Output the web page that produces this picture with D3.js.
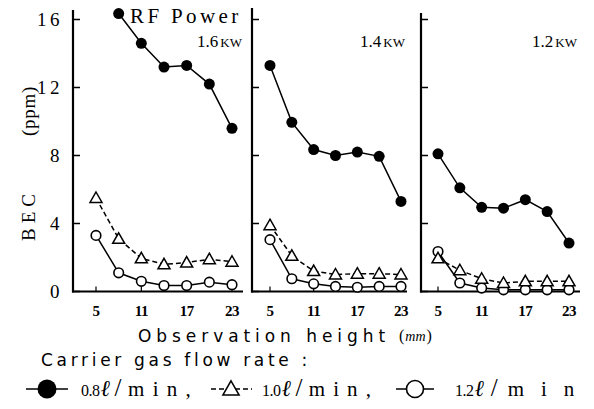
<!DOCTYPE html>
<html><head><meta charset="utf-8">
<script src="https://cdn.jsdelivr.net/npm/d3@7"></script>
<style>body{margin:0;background:#fff}svg{display:block}</style>
</head><body>
<svg id="c" width="594" height="409"></svg>
<script>
const heights = [5, 8, 11, 14, 17, 20, 23];
const xTicks = [5, 11, 17, 23];
const yTicks = [0, 4, 8, 12, 16];
const powers = ["1.6", "1.4", "1.2"];
// BEC (ppm) for carrier gas flow 0.8 / 1.0 / 1.2 l/min
const bec16_08 = [null, 16.35, 14.6, 13.2, 13.3, 12.2, 9.6];
const bec16_10 = [5.5, 3.1, 1.95, 1.6, 1.7, 1.9, 1.75];
const bec16_12 = [3.3, 1.1, 0.6, 0.35, 0.35, 0.55, 0.4];
const bec14_08 = [13.3, 9.95, 8.35, 8.0, 8.2, 7.95, 5.3];
const bec14_10 = [3.9, 2.1, 1.2, 1.0, 1.05, 1.05, 1.0];
const bec14_12 = [3.05, 0.75, 0.45, 0.3, 0.25, 0.3, 0.3];
const bec12_08 = [8.1, 6.1, 4.95, 4.9, 5.4, 4.7, 2.85];
const bec12_10 = [1.95, 1.25, 0.75, 0.5, 0.6, 0.6, 0.6];
const bec12_12 = [2.35, 0.5, 0.2, 0.1, 0.1, 0.1, 0.1];
const legendLabels = ["0.8", "1.0", "1.2"];

const panels = [
  {power: powers[0], series: [bec16_08, bec16_10, bec16_12], ax: 73, end: 243, x0: 96, x1: 232, top: 10},
  {power: powers[1], series: [bec14_08, bec14_10, bec14_12], ax: 252, end: 407, x0: 270, x1: 401, top: 8},
  {power: powers[2], series: [bec12_08, bec12_10, bec12_12], ax: 421, end: 580, x0: 438, x1: 569, top: 13}
];

const svg = d3.select("#c");
const y = d3.scaleLinear().domain([0, 16]).range([291.5, 19.5]);
const serif = "'Liberation Serif', 'DejaVu Serif', serif";
const sans = "'DejaVu Sans', sans-serif";

function fit(sel, width) {
  const node = sel.node();
  const n = node.textContent.length;
  const w = node.getComputedTextLength();
  sel.attr("letter-spacing", (width - w) / n);
  return sel;
}

function drawMarker(g, type, cx, cy, r) {
  if (type === 0) {
    g.append("circle").attr("cx", cx).attr("cy", cy).attr("r", r).attr("fill", "#000");
  } else if (type === 2) {
    g.append("circle").attr("cx", cx).attr("cy", cy).attr("r", r).attr("fill", "#fff")
      .attr("stroke", "#000").attr("stroke-width", 1.6);
  } else {
    const s = r * 1.25;
    g.append("path").attr("d", `M${cx},${cy - s}L${cx + s},${cy + s * 0.75}L${cx - s},${cy + s * 0.75}Z`)
      .attr("fill", "#fff").attr("stroke", "#000").attr("stroke-width", 1.5);
  }
}

panels.forEach((p, pi) => {
  const x = d3.scaleLinear().domain([5, 23]).range([p.x0, p.x1]);
  const g = svg.append("g");
  g.append("line").attr("x1", p.ax).attr("x2", p.ax).attr("y1", p.top).attr("y2", y(0) + 1)
    .attr("stroke", "#000").attr("stroke-width", 2.2);
  g.append("line").attr("x1", p.ax - 1).attr("x2", p.end).attr("y1", y(0)).attr("y2", y(0))
    .attr("stroke", "#000").attr("stroke-width", 2.2);
  yTicks.forEach(t => {
    g.append("line").attr("x1", p.ax).attr("x2", p.ax + 7).attr("y1", y(t)).attr("y2", y(t))
      .attr("stroke", "#000").attr("stroke-width", 1.5);
  });
  xTicks.forEach(t => {
    g.append("line").attr("x1", x(t)).attr("x2", x(t)).attr("y1", y(0)).attr("y2", y(0) - 5)
      .attr("stroke", "#000").attr("stroke-width", 1.2);
    g.append("text").attr("x", x(t)).attr("y", 316).attr("text-anchor", "middle")
      .attr("font-family", serif).attr("font-size", 15).attr("font-weight", "bold")
      .attr("letter-spacing", -0.5).text(t);
  });
  if (pi === 0) {
    yTicks.forEach(t => {
      g.append("text").attr("x", 63).attr("y", y(t) + 6.5).attr("text-anchor", "end")
        .attr("font-family", serif).attr("font-size", 19).attr("letter-spacing", 3.5).text(t);
    });
  }
  p.series.forEach((vals, si) => {
    const pts = heights.map((h, i) => [h, vals[i]]).filter(d => d[1] !== null);
    const line = d3.line().x(d => x(d[0])).y(d => y(d[1]));
    g.append("path").attr("d", line(pts)).attr("fill", "none").attr("stroke", "#000")
      .attr("stroke-width", 1.5).attr("stroke-dasharray", si === 1 ? "5,3" : null);
  });
  [2, 1, 0].forEach(si => {
    const vals = p.series[si];
    heights.forEach((h, i) => {
      if (vals[i] !== null) drawMarker(g, si, x(h), y(vals[i]), si === 0 ? 5.5 : 4.8);
    });
  });
  const lx = pi === 0 ? 242 : (pi === 1 ? 405 : 577);
  const t = g.append("text").attr("x", lx).attr("y", 47).attr("text-anchor", "end")
    .attr("font-family", serif).attr("font-size", 17);
  t.append("tspan").text(p.power);
  t.append("tspan").attr("font-size", 13).attr("dx", 2).text("KW");
});

// RF Power
fit(svg.append("text").attr("x", 130).attr("y", 23).attr("font-family", serif).attr("font-size", 21)
  .text("RF  Power"), 115);

// y label (rotated)
fit(svg.append("text").attr("transform", "translate(35,241) rotate(-90)")
  .attr("font-family", serif).attr("font-size", 19).text("BEC"), 52);
fit(svg.append("text").attr("transform", "translate(35,136) rotate(-90)")
  .attr("font-family", serif).attr("font-size", 19).text("(ppm)"), 50);

// x label
fit(svg.append("text").attr("x", 138).attr("y", 342).attr("font-family", sans).attr("font-size", 17)
  .text("Observation height"), 252);
const mm = svg.append("text").attr("x", 399).attr("y", 341).attr("font-family", serif).attr("font-size", 16);
mm.append("tspan").text("(");
mm.append("tspan").attr("font-style", "italic").attr("font-size", 14).attr("dx", 1).text("mm");
mm.append("tspan").attr("dx", 1).text(")");

fit(svg.append("text").attr("x", 41).attr("y", 366).attr("font-family", sans).attr("font-size", 17)
  .text("Carrier gas flow rate :"), 270);

// legend
const leg = svg.append("g");
const ly = 389;
const legItems = [
  {type: 0, lx1: 26, lx2: 68, cx: 47, tx: 81, w: 117, txt: legendLabels[0], comma: ","},
  {type: 1, lx1: 211, lx2: 252, cx: 231, tx: 262, w: 116, txt: legendLabels[1], comma: ","},
  {type: 2, lx1: 396, lx2: 434, cx: 415, tx: 455, w: 135, txt: legendLabels[2], comma: ""}
];
legItems.forEach(it => {
  leg.append("line").attr("x1", it.lx1).attr("x2", it.lx2).attr("y1", ly).attr("y2", ly)
    .attr("stroke", "#000").attr("stroke-width", 1.6).attr("stroke-dasharray", it.type === 1 ? "5,3" : null);
  drawMarker(leg, it.type, it.cx, ly, it.type === 0 ? 9.5 : (it.type === 2 ? 8.5 : 6.5));
  const tt = leg.append("text").attr("x", it.tx).attr("y", ly + 7).attr("font-family", serif).attr("font-size", 20);
  tt.append("tspan").attr("font-size", 16).attr("letter-spacing", -0.5).text(it.txt);
  tt.append("tspan").attr("font-style", "italic").attr("font-size", 23).attr("dx", 1).text("ℓ");
  const sl = tt.append("tspan").attr("font-size", 25).text("/");
  const rest = tt.append("tspan").attr("font-size", 21).text("min" + it.comma);
  const total = tt.node().getComputedTextLength();
  const deficit = Math.max(0, it.w - total);
  const n = ("min" + it.comma).length;
  sl.attr("dx", deficit * 0.1);
  rest.attr("dx", deficit * 0.15).attr("letter-spacing", deficit * 0.75 / n);
});
</script>
</body></html>
